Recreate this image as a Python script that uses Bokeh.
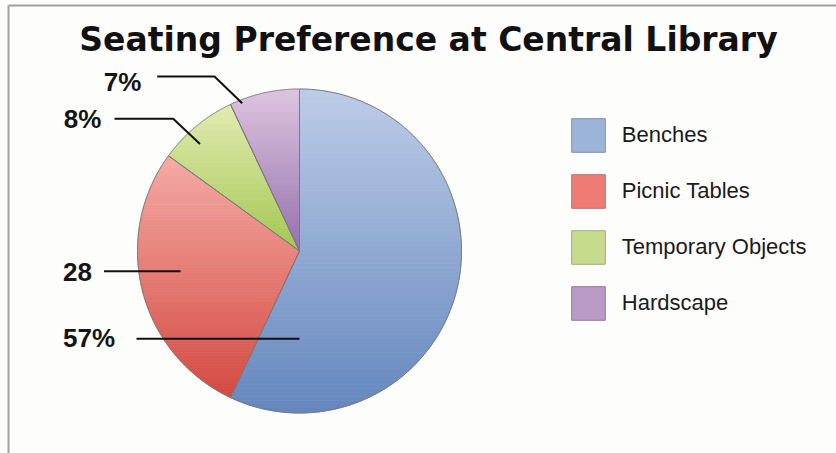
import numpy as np
from bokeh.plotting import figure
from bokeh.models import Range1d, Legend, LegendItem, Label
from bokeh.embed import file_html
from bokeh.resources import INLINE

# ---- data ----
categories = ["Benches", "Picnic Tables", "Temporary Objects", "Hardscape"]
values = [57, 28, 8, 7]
slice_labels = ["57%", "28", "8%", "7%"]
title_text = "Seating Preference at Central Library"

# ---- styles ----
top_colors = ["#bdcce7", "#f5aba5", "#e2ebb3", "#ddc5df"]
bottom_colors = ["#6487be", "#d34a42", "#a3c74f", "#9570ad"]
legend_fill = ["#9db4d9", "#ee7c74", "#c6dc8c", "#b99bc6"]
legend_line = ["#7f91ae", "#b8716c", "#9fae7e", "#937b9e"]

W, H = 836, 453
CX, CY, R = 299.0, H - 250.5, 162.0

p = figure(width=W, height=H, x_range=Range1d(0, W), y_range=Range1d(0, H),
           output_backend="svg", toolbar_location=None, min_border=0)
p.axis.visible = False
p.grid.visible = False
p.outline_line_color = None
p.background_fill_color = "#fdfdfb"
p.border_fill_color = "#ffffff"


def hex2rgb(h):
    h = h.lstrip("#")
    return np.array([int(h[i:i + 2], 16) for i in (0, 2, 4)], dtype=float)


def rgb2hex(c):
    c = np.clip(np.round(c), 0, 255).astype(int)
    return "#%02x%02x%02x" % tuple(c)


def clip(poly, y0, keep_above):
    out = []
    n = len(poly)
    for i in range(n):
        P = poly[i]
        Q = poly[(i + 1) % n]
        inP = P[1] >= y0 if keep_above else P[1] <= y0
        inQ = Q[1] >= y0 if keep_above else Q[1] <= y0
        if inP:
            out.append(P)
        if inP != inQ:
            t = (y0 - P[1]) / (Q[1] - P[1])
            out.append((P[0] + t * (Q[0] - P[0]), y0))
    return out


total = float(sum(values))
cum = np.concatenate([[0.0], np.cumsum(values)]) / total
polys = []
for i, v in enumerate(values):
    a0 = np.pi / 2 - 2 * np.pi * cum[i]
    a1 = np.pi / 2 - 2 * np.pi * cum[i + 1]
    angs = np.linspace(a0, a1, 240)
    pts = [(CX, CY)] + [(CX + R * np.cos(a), CY + R * np.sin(a)) for a in angs]
    polys.append(pts)

# gradient bands
band_xs, band_ys, band_cols = [], [], []
NB = 80
for i, pts in enumerate(polys):
    ys = [q[1] for q in pts]
    ymin, ymax = min(ys), max(ys)
    ct, cb = hex2rgb(top_colors[i]), hex2rgb(bottom_colors[i])
    edges = np.linspace(ymax, ymin, NB + 1)
    for k in range(NB):
        hi, lo = edges[k], edges[k + 1]
        part = clip(clip(pts, lo, True), hi, False)
        if len(part) < 3:
            continue
        t = (k + 0.5) / NB
        band_xs.append([q[0] for q in part])
        band_ys.append([q[1] for q in part])
        band_cols.append(rgb2hex(ct * (1 - t) + cb * t))

p.patches(band_xs, band_ys, fill_color=band_cols, line_color=band_cols, line_width=0.8)
# slice outlines
p.patches([[q[0] for q in pts] for pts in polys], [[q[1] for q in pts] for pts in polys],
          fill_alpha=0, line_color="#7a7a7a", line_width=1)

# leader lines (layout, pixel positions from top-left)
leaders = [
    [(136, 338.3), (299, 338.3)],
    [(103.5, 270.7), (180, 270.7)],
    [(114, 118.3), (172.7, 118.3), (199.5, 143.5)],
    [(156.7, 76), (214, 76), (241.7, 102.7)],
]
p.multi_line([[q[0] for q in L] for L in leaders], [[H - q[1] for q in L] for L in leaders],
             line_color="#111111", line_width=2)

label_pos = [(62.5, 337.3), (62.5, 271.7), (63.3, 118.3), (103.3, 81.7)]
for txt, (lx, ly) in zip(slice_labels, label_pos):
    p.add_layout(Label(x=lx, y=H - ly, text=txt, text_font="Liberation Sans",
                       text_font_style="bold", text_font_size="26px",
                       text_color="#141414", text_baseline="alphabetic", text_align="left"))

p.add_layout(Label(x=428, y=H - 39, text=title_text, text_font="DejaVu Sans",
                   text_font_style="bold", text_font_size="33px", text_color="#111111",
                   text_baseline="alphabetic", text_align="center"))

# frame lines
p.multi_line([[8, 8], [8, W]], [[0, H - 5], [H - 5, H - 5]], line_color="#a0a0a0", line_width=2)

# legend
items = []
nan = float("nan")
for i, c in enumerate(categories):
    r = p.quad(left=[nan], right=[nan], top=[nan], bottom=[nan], fill_color=legend_fill[i],
               line_color=legend_line[i], line_width=1)
    items.append(LegendItem(label=c, renderers=[r]))
legend = Legend(items=items, location=(566.8, 129.2), glyph_width=42, glyph_height=42,
                spacing=14, label_standoff=13, padding=0, margin=0,
                border_line_color=None, background_fill_alpha=0,
                label_text_font="Liberation Sans", label_text_font_size="22px",
                label_text_color="#1a1a1a")
p.add_layout(legend)

open("out.html", "w").write(file_html(p, INLINE))
